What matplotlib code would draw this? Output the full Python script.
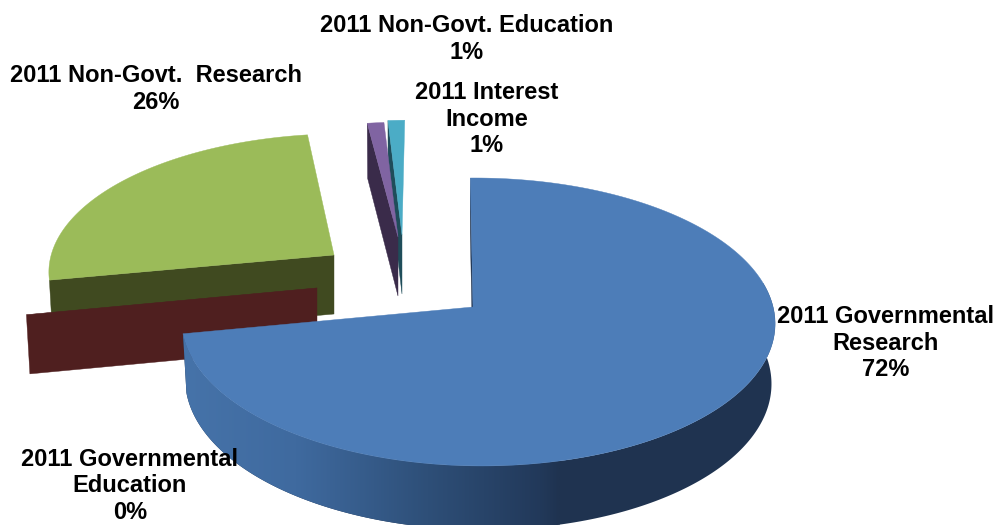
import numpy as np
import matplotlib
matplotlib.use("Agg")
import matplotlib.pyplot as plt
from matplotlib.colors import LinearSegmentedColormap
from matplotlib.patches import Polygon

# Funding shares, clockwise from twelve o'clock
categories = [
    "2011 Governmental\nResearch",
    "2011 Governmental\nEducation",
    "2011 Non-Govt.  Research",
    "2011 Non-Govt. Education",
    "2011 Interest\nIncome",
]
shares = [72, 0, 26, 1, 1]

face_colors = ["#4d7db8", "#4f1f1f", "#9bbb59", "#8064a2", "#4bacc6"]
wall_colors = ["#1f3350", "#4f1f1f", "#404a20", "#3a2b4a", "#1f4d5a"]

# Per-slice pull-out: apex position, x/y scale, horizontal lean
apexes = [(473, 307), (317, 288), (334, 255), (398, 237), (402, 235)]
scales = [(1.0, 1.0), (1.0, 1.0), (0.975, 0.94), (1.0, 0.89), (1.0, 0.89)]
leans = [-3, 0, 7, 3, 3]

label_pos = [(886, 343), (130, 486), (156, 89), (467, 39), (487, 119)]

RX, RY = 295.0, 142.4
PERSP_Y, PERSP_X = 0.104, -0.017
DEPTH = 59.0
CONVERGE = 0.012

front_gradient = LinearSegmentedColormap.from_list(
    "front", [(0.0, "#4673a9"), (0.3, "#3f6a9f"), (0.65, "#2e4f78"),
              (0.95, "#22395a"), (1.0, "#1f3350")])


def project(t, i):
    """Map pie angles (degrees clockwise from top) to the top rim of slice i."""
    t = np.radians(np.atleast_1d(t))
    X, Y = np.sin(t), np.cos(t)
    s = 1.0 / (1.0 + PERSP_Y * Y + PERSP_X * X)
    ax_, ay_ = apexes[i]
    sx, sy = scales[i]
    return (ax_ + sx * (RX * X + leans[i] * Y) * s,
            ay_ - sy * RY * Y * s,
            s)


def drop(x, y, s, i):
    """Lower a rim point to the underside of the pie."""
    ax_ = apexes[i][0]
    return ax_ + (x - ax_) * (1 - CONVERGE), y + DEPTH * (1 + 0.7 * (s - 1))


fig = plt.figure(figsize=(9.98, 5.25), dpi=100)
ax = fig.add_axes([0, 0, 1, 1])

edges = np.concatenate([[0], np.cumsum(shares)]) * 3.6
draw_order = [4, 3, 2, 1, 0]

for z, i in enumerate(draw_order):
    t0, t1 = edges[i], edges[i + 1]
    base = z * 10 + 1
    ts = np.linspace(t0, t1, max(2, int((t1 - t0) * 3) + 2))
    x, y, s = project(ts, i)
    apex = apexes[i]

    # Cut face on the leading edge, the only one turned toward the viewer
    bx, by = drop(x[0], y[0], s[0], i)
    ax.add_patch(Polygon([apex, (x[0], y[0]), (bx, by), (apex[0], apex[1] + DEPTH)],
                         closed=True, fc=wall_colors[i], ec=wall_colors[i],
                         lw=0.3, zorder=base))

    # Front wall of the large slice, shaded from dark to light along the rim
    if i == 0:
        keep = ts >= 80
        bx, by = drop(x[keep], y[keep], s[keep], i)
        shell = Polygon(np.column_stack([np.r_[x[keep], bx[::-1]], np.r_[y[keep], by[::-1]]]),
                        closed=True, fc=wall_colors[i], ec="none", zorder=base + 1)
        ax.add_patch(shell)
        ramp = np.linspace(0, 1, 256)[None, :]
        img = ax.imshow(ramp, cmap=front_gradient, extent=(183, 560, 525, 300),
                        aspect="auto", interpolation="bilinear", zorder=base + 1.5)
        img.set_clip_path(shell)

    # Top surface
    outline = [apex] + list(zip(x, y))
    ax.add_patch(Polygon(outline, closed=True, fc=face_colors[i], ec=face_colors[i],
                         lw=0.3, zorder=base + 2))

for name, share, (lx, ly) in zip(categories, shares, label_pos):
    ax.text(lx, ly, f"{name}\n{share}%", ha="center", va="center", ma="center",
            family="Liberation Sans", weight="bold", fontsize=17,
            linespacing=1.2, color="black", zorder=100)

ax.set_xlim(0, 998)
ax.set_ylim(525, 0)
ax.axis("off")

fig.savefig("out.png", dpi=100, facecolor="white")
